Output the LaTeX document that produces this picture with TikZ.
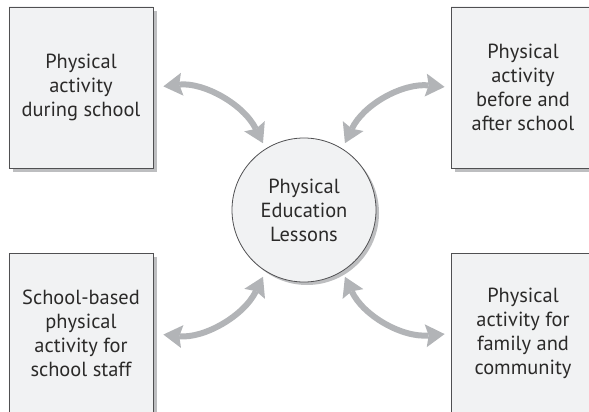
\documentclass[tikz,border=0pt]{standalone}
\usepackage{fontspec}
\setmainfont{PT Sans}
\usetikzlibrary{arrows.meta,shadows}

\definecolor{boxfill}{HTML}{F1F2F3}
\definecolor{boxedge}{HTML}{DDDEE0}
\definecolor{edgegray}{HTML}{505052}
\definecolor{shadowgray}{HTML}{BDBEC0}
\definecolor{arrowgray}{HTML}{B2B4B7}
\definecolor{inkgray}{HTML}{2B2A29}

\pgfdeclareradialshading{boxglow}{\pgfpoint{0bp}{0bp}}{color(0bp)=(boxfill); color(44bp)=(boxfill); color(50bp)=(boxedge); color(72bp)=(boxedge)}
\pgfdeclareradialshading{discglow}{\pgfpoint{0bp}{0bp}}{color(0bp)=(boxfill); color(42bp)=(boxfill); color(50bp)=(boxedge)}

\begin{document}
\begin{tikzpicture}[x=1bp,y=1bp,
    panel/.style={draw=edgegray,line width=0.8bp,shade,shading=boxglow,
      minimum width=144bp,minimum height=161bp,align=center,
      text=inkgray,font=\fontsize{20.5}{24}\selectfont,
      drop shadow={shadow xshift=4bp,shadow yshift=-4bp,fill=shadowgray,opacity=1}},
    hub/.style={circle,draw=edgegray,line width=0.8bp,shade,shading=discglow,
      minimum size=144bp,inner sep=0pt,align=center,
      text=inkgray,font=\fontsize{20.5}{24}\selectfont,
      drop shadow={shadow xshift=3bp,shadow yshift=-3bp,fill=shadowgray,opacity=1}},
    link/.style={draw=arrowgray,line width=6bp,
      {Stealth[length=19bp,width=23bp,inset=3bp,line width=0pt]}-{Stealth[length=19bp,width=23bp,inset=3bp,line width=0pt]}}]
  \useasboundingbox (0,0) rectangle (589,411);

  \node[hub] (lessons) at (304,201) {Physical\\Education\\Lessons};

  \node[panel] (during) at (81,323.5) {Physical\\activity\\during school};
  \node[panel] (beforeafter) at (523,323.5) {Physical\\activity\\before and\\after school};
  \node[panel] (staff) at (81,77.5) {School-based\\physical\\activity for\\school staff};
  \node[panel] (family) at (523,77.5) {Physical\\activity for\\family and\\community};

  \draw[link,shorten <=10bp,shorten >=6bp] (during.east) to[bend left=35] (lessons.122);
  \draw[link,shorten <=6bp,shorten >=6bp] (lessons.58) to[bend left=35] (beforeafter.west);
  \draw[link,shorten <=10bp,shorten >=6bp] (staff.east) to[bend right=35] (lessons.238);
  \draw[link,shorten <=6bp,shorten >=6bp] (lessons.302) to[bend right=35] (family.west);
\end{tikzpicture}
\end{document}
